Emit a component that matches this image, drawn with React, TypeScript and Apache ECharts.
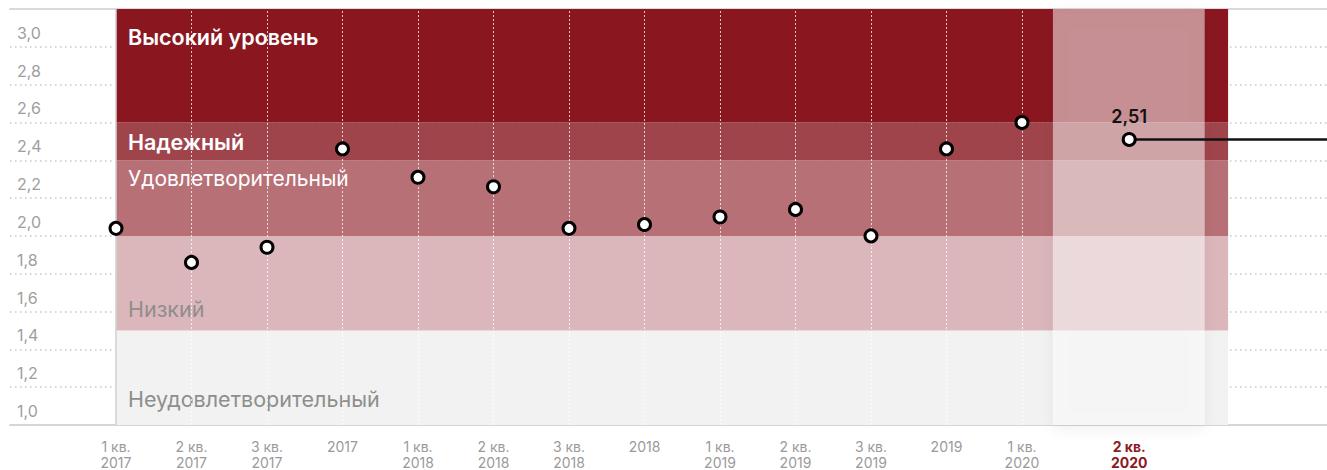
import React, { useEffect, useRef } from "react";
import * as echarts from "echarts";

const categories = [
  "1 кв.\n2017", "2 кв.\n2017", "3 кв.\n2017", "2017",
  "1 кв.\n2018", "2 кв.\n2018", "3 кв.\n2018", "2018",
  "1 кв.\n2019", "2 кв.\n2019", "3 кв.\n2019", "2019",
  "1 кв.\n2020", "2 кв.\n2020",
];
const values = [2.04, 1.86, 1.94, 2.46, 2.31, 2.26, 2.04, 2.06, 2.1, 2.14, 2.0, 2.46, 2.6, 2.51];
// the current quarter is set apart from the others by a wider gap
const positions = categories.map((_, i) => (i < categories.length - 1 ? i : 13.42));

const yTicks = [1.0, 1.2, 1.4, 1.6, 1.8, 2.0, 2.2, 2.4, 2.6, 2.8, 3.0];

const bandNames = ["Неудовлетворительный", "Низкий", "Удовлетворительный", "Надежный", "Высокий уровень"];
const bandFrom = [1.0, 1.5, 2.0, 2.4, 2.6];
const bandTo = [1.5, 2.0, 2.4, 2.6, 3.2];
const bandColors = ["#f1f2f1", "#dbb6ba", "#b77076", "#a0444b", "#8a171f"];
const bandTextColors = ["#8e8e8e", "#8e8e8e", "#ffffff", "#ffffff", "#ffffff"];
const bandTextWeights = [400, 400, 400, 600, 600];
const bandTextSizes = [21.5, 21.5, 21, 21.5, 21.5];
const bandTextOffsets = [58, 62, 8, 9, 17];

const fmt = (v: number) => v.toFixed(2).replace(".", ",");

export default function App() {
  const ref = useRef<HTMLDivElement>(null);
  useEffect(() => {
    document.body.style.margin = "0";
    const chart = echarts.init(ref.current!, null, { renderer: "svg" });
    const font = "Inter, 'Noto Sans', sans-serif";
    const last = categories.length - 1;
    const xMin = -1.404;
    const xMax = 16.04;
    const bandRight = 14.73;
    const hlFrom = 12.41;
    const hlTo = 14.42;

    chart.setOption({
      animation: false,
      textStyle: { fontFamily: font },
      grid: { left: 10, right: 0, top: 9, bottom: 45, containLabel: false, outerBoundsMode: "none" },
      xAxis: [
        {
          type: "value",
          min: xMin,
          max: xMax,
          axisLine: { show: true, lineStyle: { color: "#d6d6d6", width: 2 } },
          axisTick: { show: false },
          splitLine: { show: false },
          axisLabel: {
            customValues: positions,
            margin: 13,
            color: "#9a9a9a",
            fontSize: 14,
            lineHeight: 16,
            verticalAlign: "top",
            fontFamily: font,
            formatter: (v: number) => {
              let idx = 0;
              let best = Infinity;
              positions.forEach((p, i) => {
                const d = Math.abs(p - v);
                if (d < best) { best = d; idx = i; }
              });
              return idx === last ? `{cur|${categories[idx]}}` : categories[idx];
            },
            rich: {
              cur: { color: "#8b1a22", fontWeight: 700, fontSize: 14, lineHeight: 16, fontFamily: font },
            },
          },
        },
        {
          type: "value",
          position: "top",
          min: xMin,
          max: xMax,
          axisLine: { show: true, lineStyle: { color: "#d9d9d9", width: 2 } },
          axisTick: { show: false },
          axisLabel: { show: false },
          splitLine: { show: false },
        },
      ],
      yAxis: {
        type: "value",
        min: 1.0,
        max: 3.2,
        interval: 0.2,
        axisLine: { show: true, lineStyle: { color: "#dcdcdc", width: 1.5 } },
        axisTick: { show: false },
        splitLine: { show: true, lineStyle: { color: "#c8c8c8", type: [1.5, 3.5], width: 1.5 } },
        axisLabel: {
          inside: true,
          margin: 7,
          color: "#9e9e9e",
          fontSize: 16,
          verticalAlign: "bottom",
          padding: [0, 0, 6, 0],
          fontFamily: font,
          formatter: (v: number) => {
            const t = yTicks.find((y) => Math.abs(y - v) < 1e-6);
            return t === undefined ? "" : t.toFixed(1).replace(".", ",");
          },
        },
      },
      series: [
        {
          name: "bands",
          type: "line",
          data: [],
          z: 1,
          markArea: {
            silent: true,
            data: bandNames.map((name, i) => [
              {
                name,
                xAxis: 0,
                yAxis: bandFrom[i],
                itemStyle: { color: bandColors[i], opacity: 1 },
                label: {
                  show: true,
                  position: [12, bandTextOffsets[i]],
                  color: bandTextColors[i],
                  fontSize: bandTextSizes[i],
                  fontWeight: bandTextWeights[i],
                  fontFamily: font,
                },
              },
              { xAxis: bandRight, yAxis: bandTo[i] },
            ]),
          },
        },
        {
          name: "grid-lines",
          type: "line",
          data: [],
          z: 2,
          markLine: {
            silent: true,
            symbol: "none",
            label: { show: false },
            data: [
              { xAxis: 0, lineStyle: { color: "#d4d4d4", type: "solid", width: 1.5 } },
              ...positions.slice(1, last).map((p) => ({
                xAxis: p,
                lineStyle: { color: "rgba(255,255,255,0.75)", type: [2, 2], width: 1 },
              })),
            ],
          },
        },
        {
          name: "highlight",
          type: "line",
          data: [],
          z: 3,
          markArea: {
            silent: true,
            data: [
              [
                {
                  xAxis: hlFrom,
                  yAxis: 1.0,
                  itemStyle: {
                    color: "rgba(255,255,255,0.5)",
                    shadowBlur: 14,
                    shadowColor: "rgba(0,0,0,0.12)",
                    shadowOffsetY: 4,
                  },
                },
                { xAxis: hlTo, yAxis: 3.2 },
              ],
            ],
          },
        },
        {
          name: "current",
          type: "line",
          z: 4,
          symbol: "none",
          lineStyle: { color: "#111111", width: 2.5 },
          data: [
            [positions[last], values[last]],
            [xMax, values[last]],
          ],
        },
        {
          name: "index",
          type: "scatter",
          z: 5,
          symbol: "circle",
          symbolSize: 12,
          itemStyle: { color: "#ffffff", borderColor: "#000000", borderWidth: 3, opacity: 1 },
          data: values.map((v, i) => ({
            value: [positions[i], v],
            label:
              i === last
                ? {
                    show: true,
                    position: "top",
                    distance: 6,
                    formatter: () => fmt(v),
                    color: "#111111",
                    fontSize: 18,
                    fontWeight: 600,
                    fontFamily: font,
                  }
                : { show: false },
          })),
        },
      ],
    });
    return () => chart.dispose();
  }, []);
  return <div ref={ref} style={{ width: 1327, height: 470 }} />;
}
